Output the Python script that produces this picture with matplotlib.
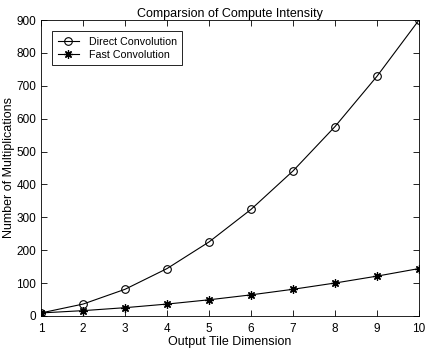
import matplotlib
matplotlib.use("Agg")
import matplotlib.pyplot as plt

plt.rcParams['font.family'] = ['Liberation Sans', 'DejaVu Sans']

tile_dim = [1, 2, 3, 4, 5, 6, 7, 8, 9, 10]
direct_conv = [9, 36, 81, 144, 225, 324, 441, 576, 729, 900]
fast_conv = [9, 16, 25, 36, 49, 64, 81, 100, 121, 144]

fig = plt.figure(figsize=(4.28, 3.51), dpi=100)
ax = fig.add_axes([0.096, 0.1, 0.883, 0.843])

ax.plot(tile_dim, direct_conv, color="black", linewidth=0.8, marker="o",
        markersize=5.5, markerfacecolor="none", markeredgewidth=0.8,
        label="Direct Convolution")
ax.plot(tile_dim, fast_conv, color="black", linewidth=0.8, marker=(8, 2, 0),
        markersize=6, markeredgewidth=0.9,
        label="Fast Convolution")

ax.set_xlim(1, 10)
ax.set_ylim(0, 900)
ax.set_xticks(tile_dim)
ax.set_yticks(range(0, 901, 100))
ax.tick_params(direction="in", top=True, right=True, labelsize=8.5, length=4, width=0.6)
ax.tick_params(axis="x", pad=5)
ax.tick_params(axis="y", pad=3.5)
for s in ax.spines.values():
    s.set_linewidth(0.6)

ax.set_title("Comparsion of Compute Intensity", fontsize=9, pad=2)
ax.set_xlabel("Output Tile Dimension", fontsize=9, labelpad=1)
ax.set_ylabel("Number of Multiplications", fontsize=9, labelpad=1)

leg = ax.legend(loc="upper left", fontsize=7.7, fancybox=False, framealpha=1,
                edgecolor="black", borderaxespad=1.05, handlelength=2.0,
                handletextpad=0.9, borderpad=0.5, labelspacing=0.3)
leg.get_frame().set_linewidth(0.6)

fig.savefig("out.png", dpi=100)
